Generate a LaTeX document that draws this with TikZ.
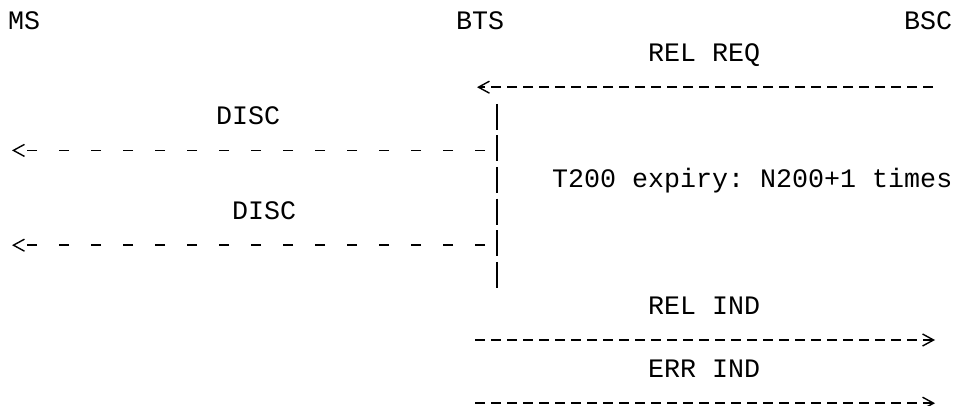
\documentclass[tikz,border=0pt]{standalone}
\usepackage{fontspec}
\setmonofont{Liberation Mono}
\usetikzlibrary{arrows.meta}
\begin{document}
\begin{tikzpicture}[x=1pt,y=1pt,
  lbl/.style={font=\ttfamily\fontsize{26.67}{32}\selectfont, inner sep=0pt, anchor=base west},
  tipl/.style={-{Straight Barb[length=11pt,width=12pt,line width=1.4pt]}},
  longmsg/.style={tipl, line width=1.6pt, dash pattern=on 10pt off 6pt},
  shortmsg/.style={tipl, line width=1.6pt, dash pattern=on 10pt off 22pt, dash phase=20pt},
  lifeline/.style={line width=1.7pt, dash pattern=on 26pt off 5.6pt}
]
\useasboundingbox (0,0) rectangle (954,-406);
% header
\node[lbl] (ms)  at (8,-30)   {MS};
\node[lbl] (bts) at (456,-30) {BTS};
\node[lbl] (bsc) at (904,-30) {BSC};
% labels
\node[lbl] (relreq) at (648,-61.6)  {REL REQ};
\node[lbl] (disc1)  at (216,-124.8) {DISC};
\node[lbl] (t200)   at (552,-188)   {T200 expiry: N200+1 times};
\node[lbl] (disc2)  at (232,-219.6) {DISC};
\node[lbl] (relind) at (648,-314.4) {REL IND};
\node[lbl] (errind) at (648,-377.6) {ERR IND};
% coordinates
\coordinate (bscA) at (933,-87.2);
\coordinate (btsA) at (477,-87.2);
\coordinate (btsTop) at (497,-103.8);
\coordinate (btsBot) at (497,-287.8);
\coordinate (btsB) at (497,-150.4);
\coordinate (msB)  at (12,-150.4);
\coordinate (btsC) at (497,-245.2);
\coordinate (msC)  at (12,-245.2);
\coordinate (btsD) at (475,-340);
\coordinate (bscD) at (935,-340);
\coordinate (btsE) at (475,-403.2);
\coordinate (bscE) at (935,-403.2);
% connectors
\draw[longmsg] (bscA) -- (btsA);
\draw[lifeline] (btsTop) -- (btsBot);
\draw[shortmsg] (btsB) -- (msB);
\draw[shortmsg] (btsC) -- (msC);
\draw[longmsg] (btsD) -- (bscD);
\draw[longmsg] (btsE) -- (bscE);
\end{tikzpicture}
\end{document}
